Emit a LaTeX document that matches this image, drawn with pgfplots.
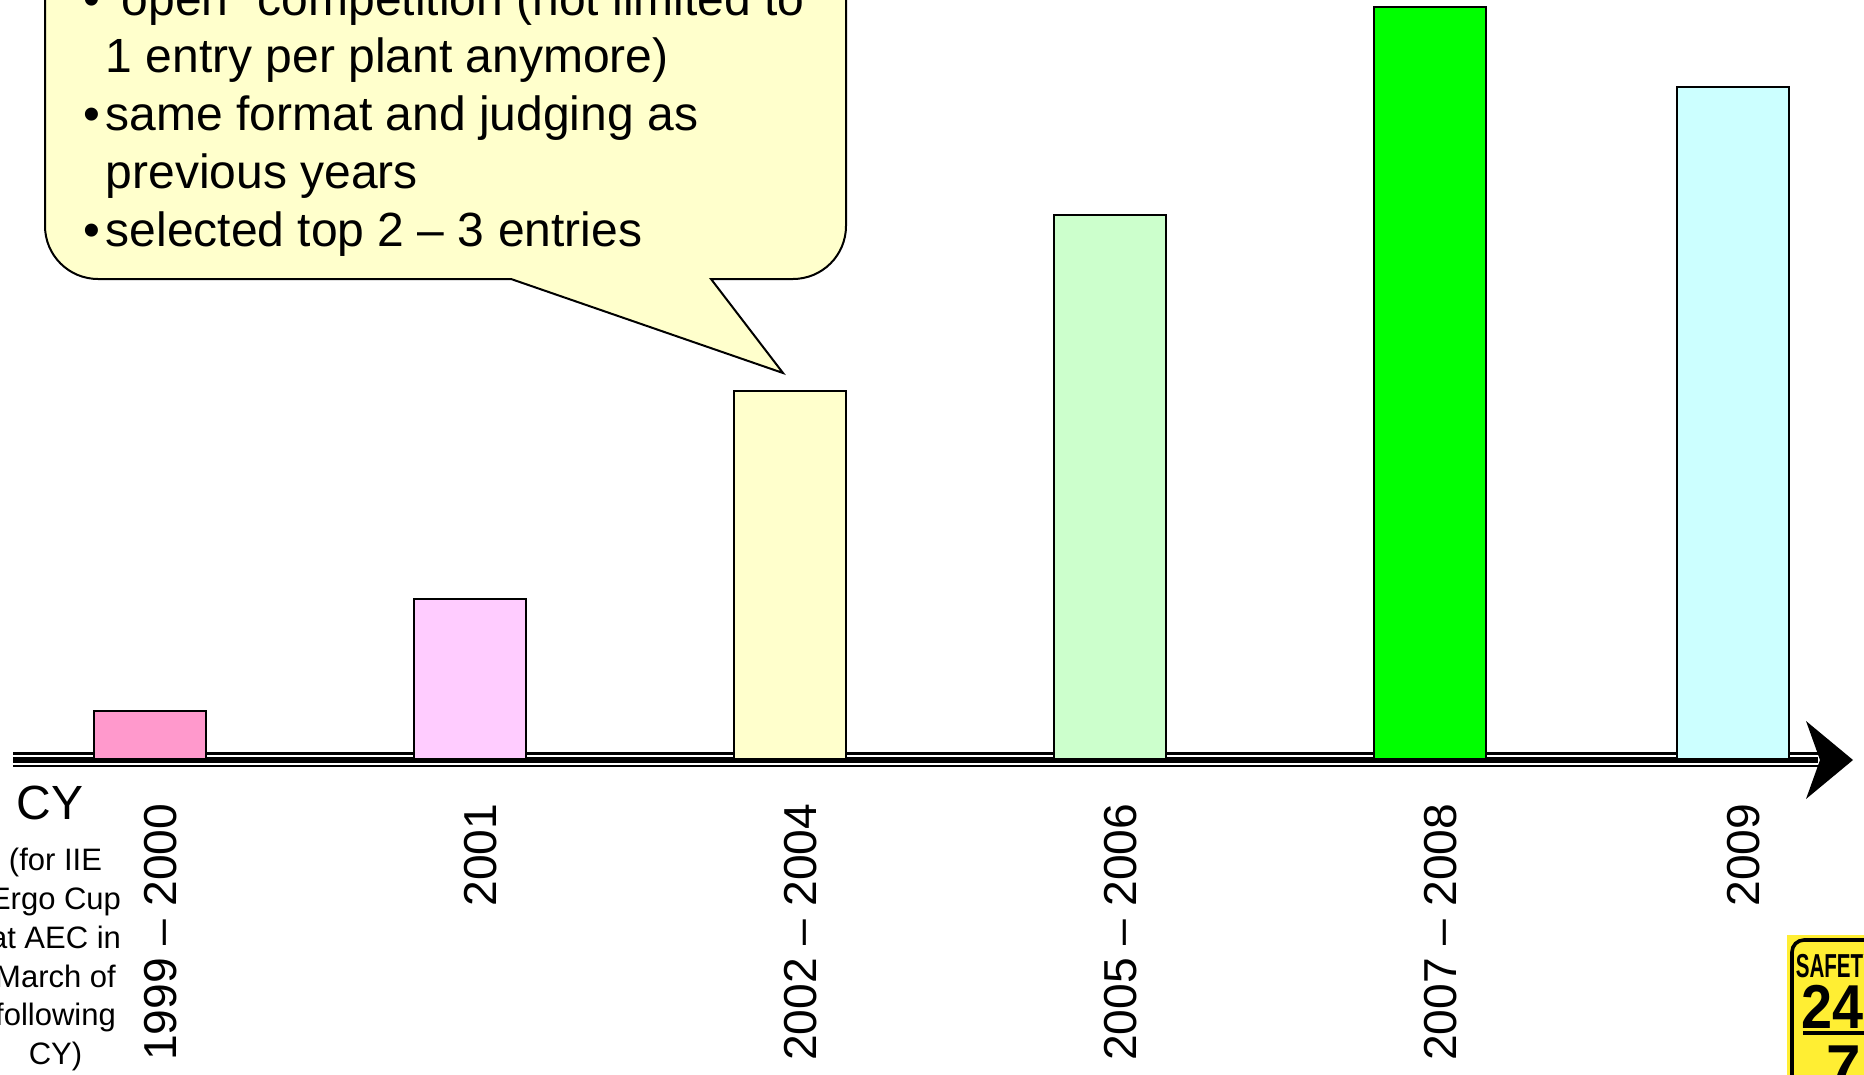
\documentclass[border=0pt]{standalone}
\usepackage{pgfplots}
\pgfplotsset{compat=1.18}
\usepackage{graphicx}
\usepackage{fontspec}
\setmainfont{Liberation Sans}

\definecolor{barA}{HTML}{FF99CC}
\definecolor{barB}{HTML}{FFCCFF}
\definecolor{barC}{HTML}{FFFFCC}
\definecolor{barD}{HTML}{CCFFCC}
\definecolor{barE}{HTML}{00FF00}
\definecolor{barF}{HTML}{CCFFFF}
\definecolor{callout}{HTML}{FFFFCC}
\definecolor{logoyellow}{HTML}{FFEE33}

\begin{document}
\begin{tikzpicture}
% page = 1864 x 1074 px, 1 px = 0.25pt
\useasboundingbox (0,0) rectangle (466pt,268.5pt);

% timeline arrow (three strokes), drawn under the bars
\begin{scope}[x=0.25pt,y=-0.25pt,shift={(0pt,268.5pt)}]
  \draw[line width=0.75pt] (13,753.5) -- (1818,753.5);
  \draw[line width=1.4pt] (13,760) -- (1818,760);
  \draw[line width=0.5pt] (13,766) -- (1818,766);
  \fill (1806,721) -- (1853,760) -- (1806,799) -- (1820,760) -- cycle;
\end{scope}

\begin{axis}[
    at={(3.25pt,78.75pt)}, anchor=south west,
    scale only axis, width=460.25pt, height=188pt,
    xmin=-0.428, xmax=5.325, ymin=0, ymax=752,
    axis line style={draw=none}, major tick length=0pt,
    ytick=\empty,
    xtick={0,1,2,3,4,4.947},
    xticklabels={1999 – 2000, 2001, 2002 – 2004, 2005 – 2006, 2007 – 2008, 2009},
    xticklabel style={yshift=-11pt, xshift=2.75pt, rotate=90, anchor=east,
                      inner sep=0pt, font=\fontsize{11.55pt}{13.8pt}\selectfont},
    ybar, bar width=28pt, clip=false,
  ]
  \addplot[fill=barA, draw=black, line width=0.6pt, bar shift=0pt] coordinates {(0,48)};
  \addplot[fill=barB, draw=black, line width=0.6pt, bar shift=0pt] coordinates {(1,160)};
  \addplot[fill=barC, draw=black, line width=0.6pt, bar shift=0pt] coordinates {(2,368)};
  \addplot[fill=barD, draw=black, line width=0.6pt, bar shift=0pt] coordinates {(3,544)};
  \addplot[fill=barE, draw=black, line width=0.6pt, bar shift=0pt] coordinates {(4,752)};
  \addplot[fill=barF, draw=black, line width=0.6pt, bar shift=0pt] coordinates {(4.947,672)};
\end{axis}

\begin{scope}[x=0.25pt,y=-0.25pt,shift={(0pt,268.5pt)}]
  % speech bubble
  \draw[fill=callout, line width=0.5pt]
    (45,-120) [rounded corners=13.25pt] -- (45,279) -- (300,279) [sharp corners]
    -- (511,279) -- (783,373) -- (711,279) -- (760,279) [rounded corners=13.25pt]
    -- (846,279) -- (846,-120) [sharp corners] -- cycle;
  \begin{scope}[every node/.style={inner sep=0pt, anchor=base west,
                font=\fontsize{12pt}{14.4pt}\selectfont}]
    \node at (83,15.2) {•};
    \node at (105,15.2) {“open” competition (not limited to};
    \node at (105,72.9) {1 entry per plant anymore)};
    \node at (83,130.6) {•};
    \node at (105,130.6) {same format and judging as};
    \node at (105,188.3) {previous years};
    \node at (83,246) {•};
    \node at (105,246) {selected top 2 – 3 entries};
  \end{scope}

  % axis caption on the left
  \node[inner sep=0pt, anchor=base, font=\fontsize{12pt}{14pt}\selectfont] at (50,819.3) {CY};
  \begin{scope}[every node/.style={inner sep=0pt, anchor=base,
                font=\fontsize{7.75pt}{9.7pt}\selectfont}]
    \node at (55.5,870.7) {(for IIE};
    \node at (55.5,909.5) {Ergo Cup};
    \node at (55.5,948.3) {at AEC in};
    \node at (55.5,987.1) {March of};
    \node at (55.5,1025.9) {following};
    \node at (55.5,1064.7) {CY)};
  \end{scope}

  % corner logo (cut by the page edge)
  \fill[logoyellow] (1787,935) rectangle (1900,1100);
  \draw[line width=0.9pt, rounded corners=3pt] (1792,940) rectangle (1900,1100);
  \node[inner sep=0pt, anchor=base west, font=\bfseries\fontsize{8.3pt}{9pt}\selectfont]
    at (1795,977) {\scalebox{0.62}[1]{SAFETY}};
  \node[inner sep=0pt, anchor=base west, font=\bfseries\fontsize{15.5pt}{16pt}\selectfont]
    at (1801,1028) {\scalebox{0.9}[1]{24}};
  \draw[line width=0.9pt] (1803,1033) -- (1900,1033);
  \node[inner sep=0pt, anchor=base west, font=\bfseries\fontsize{15.5pt}{16pt}\selectfont]
    at (1826,1088) {7};
\end{scope}
\end{tikzpicture}
\end{document}
